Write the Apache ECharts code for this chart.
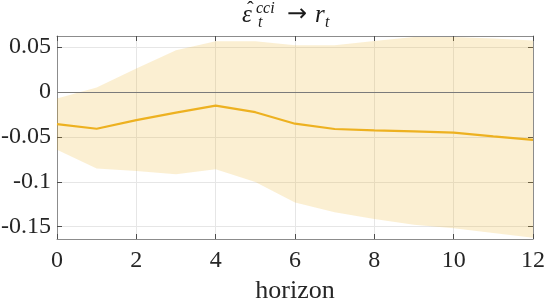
<!DOCTYPE html>
<html>
<head>
<meta charset="utf-8">
<script src="https://cdn.jsdelivr.net/npm/echarts@6/dist/echarts.min.js"></script>
<style>
html,body{margin:0;padding:0;background:#fff;}
#c{width:545px;height:300px;}
</style>
</head>
<body>
<div id="c"></div>
<script>
// ---- data ----
var horizons = [0, 1, 2, 3, 4, 5, 6, 7, 8, 9, 10, 11, 12];
var meanIRF  = [-0.0358, -0.0410, -0.0314, -0.0230, -0.0152, -0.0226, -0.0354, -0.0413, -0.0428, -0.0439, -0.0453, -0.0494, -0.0534];
var lowerCI  = [-0.0644, -0.0853, -0.0879, -0.0916, -0.0861, -0.1004, -0.1231, -0.1340, -0.1415, -0.1478, -0.1518, -0.1570, -0.1624];
var upperCI  = [-0.0073, 0.0049, 0.0260, 0.0463, 0.0563, 0.0563, 0.0519, 0.0519, 0.0567, 0.0611, 0.0611, 0.0593, 0.0571];
var xTicks   = [0, 2, 4, 6, 8, 10, 12];
var yTicks   = [-0.15, -0.1, -0.05, 0, 0.05];
var xLabel   = 'horizon';

var yMin = -0.1637, yMax = 0.0622;
var serif = "'Liberation Serif', 'DejaVu Serif', serif";
var lineColor = '#EDB120';
var bandColor = 'rgba(237,177,32,0.2)';

function pairs(xs, ys) { return xs.map(function (x, i) { return [x, ys[i]]; }); }

var chart = echarts.init(document.getElementById('c'), null, {renderer: 'canvas'});

var axisLineStyle = {color: '#8c8c8c', width: 1};
var tickStyle = {color: '#4d4d4d', width: 1};

function txt(s, left, top, size, italic, family) {
  return {type: 'text', left: left, top: top, z: 10,
          style: {text: s, fontSize: size, fontStyle: italic ? 'italic' : 'normal',
                  fontFamily: family || serif, fill: '#1a1a1a'}};
}

var option = {
  animation: false,
  backgroundColor: '#ffffff',
  grid: {left: 57, right: 12, top: 36, bottom: 61, containLabel: false, outerBoundsMode: 'none'},
  xAxis: [
    {
      type: 'value', min: 0, max: 12, interval: 2, position: 'bottom',
      axisLine: {show: true, onZero: false, lineStyle: axisLineStyle},
      axisTick: {show: true, inside: true, length: 5, lineStyle: tickStyle},
      axisLabel: {show: true, fontFamily: serif, fontSize: 24, color: '#262626', margin: 10},
      splitLine: {show: true, lineStyle: {color: '#e6e6e6', width: 1}},
      name: xLabel, nameLocation: 'middle', nameGap: 36,
      nameTextStyle: {fontFamily: serif, fontSize: 26, color: '#262626'}
    },
    {
      type: 'value', min: 0, max: 12, interval: 2, position: 'top',
      axisLine: {show: true, onZero: false, lineStyle: axisLineStyle},
      axisTick: {show: true, inside: true, length: 5, lineStyle: tickStyle},
      axisLabel: {show: false},
      splitLine: {show: false}
    }
  ],
  yAxis: [
    {
      type: 'value', min: yMin, max: yMax, position: 'left',
      axisLine: {show: true, onZero: false, lineStyle: axisLineStyle},
      axisTick: {show: true, inside: true, length: 5, lineStyle: tickStyle, customValues: yTicks},
      axisLabel: {show: true, fontFamily: serif, fontSize: 24, color: '#262626', margin: 6,
                  customValues: yTicks,
                  formatter: function (v) { return String(+v.toFixed(4)); }},
      splitLine: {show: true, lineStyle: {color: '#e6e6e6', width: 1}}
    },
    {
      type: 'value', min: yMin, max: yMax, position: 'right',
      axisLine: {show: true, onZero: false, lineStyle: axisLineStyle},
      axisTick: {show: true, inside: true, length: 5, lineStyle: tickStyle, customValues: yTicks},
      axisLabel: {show: false},
      splitLine: {show: false}
    }
  ],
  series: [
    {
      name: 'band', type: 'custom', silent: true, clip: true, z: 1,
      data: horizons.map(function (x, i) { return [x, lowerCI[i], upperCI[i]]; }),
      encode: {x: 0, y: [1, 2]},
      renderItem: function (params, api) {
        if (params.dataIndex !== 0) return null;
        var pts = [];
        for (var i = 0; i < horizons.length; i++) pts.push(api.coord([horizons[i], upperCI[i]]));
        for (var j = horizons.length - 1; j >= 0; j--) pts.push(api.coord([horizons[j], lowerCI[j]]));
        return {type: 'polygon', shape: {points: pts}, style: {fill: bandColor, stroke: null}};
      }
    },
    {
      name: 'mean', type: 'line', data: pairs(horizons, meanIRF), symbol: 'none',
      lineStyle: {color: lineColor, width: 2.2}, z: 3,
      markLine: {
        silent: true, symbol: 'none', label: {show: false},
        lineStyle: {color: '#7a7a7a', width: 1, type: 'solid'},
        data: [{yAxis: 0}]
      }
    }
  ],
  graphic: [
    txt('ε', 242, 3, 25, true),
    txt('ˆ', 247, 1, 20, false),
    txt('cci', 256, 1, 16, true),
    txt('t', 258, 15, 16, true),
    txt('→', 287, 3, 24, false, "'DejaVu Sans', sans-serif"),
    txt('r', 315, 3, 25, true),
    txt('t', 325, 15, 16, true)
  ]
};
chart.setOption(option);
</script>
</body>
</html>
